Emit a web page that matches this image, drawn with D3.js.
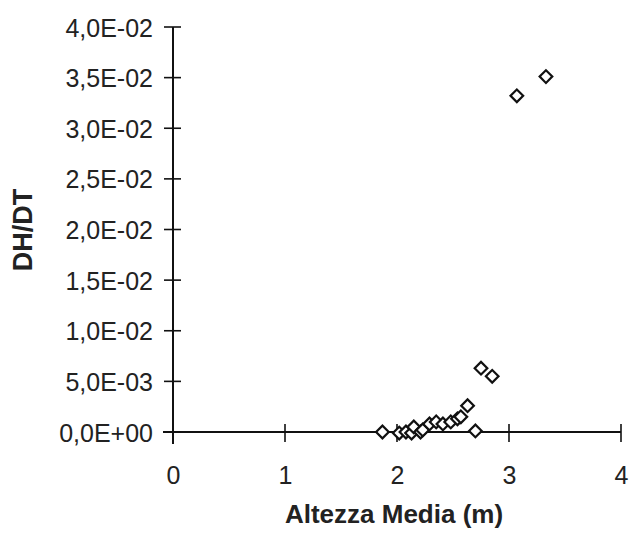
<!DOCTYPE html>
<html>
<head>
<meta charset="utf-8">
<script src="https://cdn.jsdelivr.net/npm/d3@7"></script>
<style>
  html, body { margin: 0; padding: 0; background: #ffffff; }
  svg { display: block; }
  text { font-family: "Liberation Sans", Arial, sans-serif; fill: #222; }
</style>
</head>
<body>
<svg id="chart" width="629" height="534"></svg>
<script>
// ---- data ----
const altezza = [1.87, 2.02, 2.08, 2.13, 2.15, 2.21, 2.23, 2.29, 2.35, 2.41, 2.48, 2.54, 2.57, 2.63, 2.70, 2.75, 2.85, 3.07, 3.33];
const dhdt    = [0.0000, -0.0001, 0.0000, -0.0001, 0.0005, 0.0000, 0.0002, 0.0008, 0.0010, 0.0008, 0.0010, 0.0013, 0.0015, 0.0026, 0.0001, 0.0063, 0.0055, 0.0332, 0.0351];
const xTicks = [0, 1, 2, 3, 4];
const xTickLabels = ["0", "1", "2", "3", "4"];
const yTicks = [0, 0.005, 0.01, 0.015, 0.02, 0.025, 0.03, 0.035, 0.04];
const yTickLabels = ["0,0E+00", "5,0E-03", "1,0E-02", "1,5E-02", "2,0E-02", "2,5E-02", "3,0E-02", "3,5E-02", "4,0E-02"];
const xTitle = "Altezza Media (m)";
const yTitle = "DH/DT";

const svg = d3.select("#chart");
const x = d3.scaleLinear().domain([0, 4]).range([173, 621]);
const y = d3.scaleLinear().domain([0, 0.04]).range([432, 27]);

// x axis
const xAxis = d3.axisBottom(x)
  .tickValues(xTicks)
  .tickFormat((d, i) => xTickLabels[i])
  .tickSizeInner(0).tickSizeOuter(0).tickPadding(0);
const gx = svg.append("g").attr("transform", `translate(0,${y(0)})`).call(xAxis);
gx.select(".domain").remove();
gx.selectAll(".tick line").remove();
gx.selectAll(".tick text").attr("y", 52).attr("dy", null)
  .style("font-size", "25px").style("font-family", "Liberation Sans, Arial, sans-serif").attr("fill", "#222");
// axis line (extends slightly left past y axis)
svg.append("line").attr("x1", x(0) - 10).attr("x2", x(4)).attr("y1", y(0)).attr("y2", y(0))
  .attr("stroke", "#111").attr("stroke-width", 2);
// crossing tick marks
svg.append("g").selectAll("line").data(xTicks).join("line")
  .attr("x1", d => x(d)).attr("x2", d => x(d))
  .attr("y1", y(0) - 8).attr("y2", y(0) + 10)
  .attr("stroke", "#111").attr("stroke-width", 1.6);

// y axis
const yAxis = d3.axisLeft(y)
  .tickValues(yTicks)
  .tickFormat((d, i) => yTickLabels[i])
  .tickSizeInner(0).tickSizeOuter(0).tickPadding(0);
const gy = svg.append("g").attr("transform", `translate(${x(0)},0)`).call(yAxis);
gy.select(".domain").remove();
gy.selectAll(".tick line").remove();
gy.selectAll(".tick text").attr("x", -20).attr("dy", "0.36em")
  .style("font-size", "25px").style("font-family", "Liberation Sans, Arial, sans-serif").attr("fill", "#222");
svg.append("line").attr("x1", x(0)).attr("x2", x(0)).attr("y1", y(0.04)).attr("y2", y(0) + 12)
  .attr("stroke", "#111").attr("stroke-width", 2);
svg.append("g").selectAll("line").data(yTicks).join("line")
  .attr("x1", x(0) - 9).attr("x2", x(0) + 8)
  .attr("y1", d => y(d)).attr("y2", d => y(d))
  .attr("stroke", "#111").attr("stroke-width", 1.6);

// titles
svg.append("text").attr("x", 394).attr("y", 523).attr("text-anchor", "middle")
  .style("font-size", "26px").style("font-weight", "bold").text(xTitle);
svg.append("text").attr("transform", "translate(32,230) rotate(-90)").attr("text-anchor", "middle")
  .style("font-size", "27px").style("font-weight", "bold").text(yTitle);

// points (diamonds)
const pts = altezza.map((a, i) => ({ a, v: dhdt[i] }));
const sym = d3.symbol().type(d3.symbolSquare).size(80);
svg.append("g").selectAll("path").data(pts).join("path")
  .attr("d", sym)
  .attr("transform", d => `translate(${x(d.a)},${y(d.v)}) rotate(45)`)
  .attr("fill", "#fff").attr("stroke", "#111").attr("stroke-width", 2.2);
</script>
</body>
</html>
